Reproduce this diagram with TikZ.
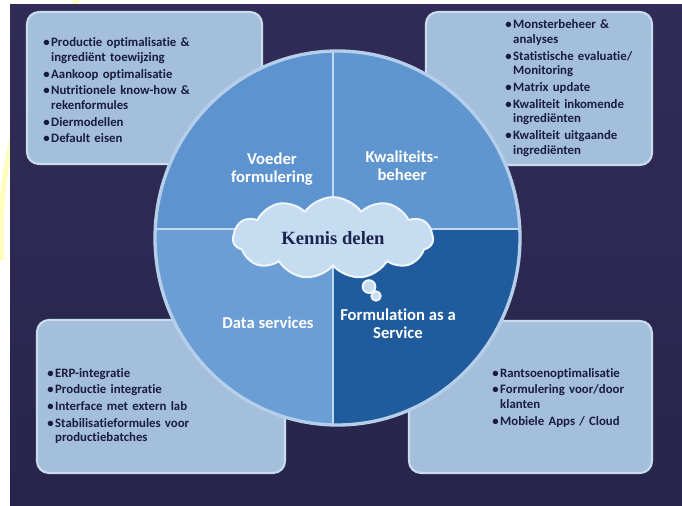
\documentclass[tikz,border=0pt]{standalone}
\usepackage{fontspec}
\setmainfont{Carlito}[Ligatures=NoCommon]
\newfontfamily\cloudfont{Liberation Serif}
\usetikzlibrary{shapes.symbols,shapes.callouts}

\definecolor{bgtop}{HTML}{302C57}
\definecolor{bgbottom}{HTML}{28254C}
\definecolor{boxfill}{HTML}{A4BFDC}
\definecolor{boxedge}{HTML}{C9DCEF}
\definecolor{boxtext}{HTML}{1A1C3C}
\definecolor{qtl}{HTML}{5D93CE}
\definecolor{qtr}{HTML}{6096CF}
\definecolor{qbl}{HTML}{6A9ED5}
\definecolor{qbr}{HTML}{1F5B9D}
\definecolor{sepline}{HTML}{C0D8F0}
\definecolor{rimline}{HTML}{B5CFEA}
\definecolor{cloudfill}{HTML}{C6DCF1}
\definecolor{cloudedge}{HTML}{EEF5FC}
\definecolor{cloudtext}{HTML}{1B2650}

% one bullet item, wrapped lines hang under the text
\newcommand\itm[1]{\hangindent=0.62em\hangafter=1\noindent\makebox[0.62em][l]{\textbullet}#1\par\vspace{1.5pt}}

\begin{document}
\begin{tikzpicture}[x=0.75pt,y=-0.75pt,line join=round,
  box/.style={fill=boxfill,draw=boxedge,line width=1.6pt,rounded corners=9pt},
  listtext/.style={anchor=base west,text width=220pt,align=left,inner sep=0pt,
    text=boxtext,font=\fontsize{9.6}{11}\selectfont\bfseries},
  quadlabel/.style={text=white,align=center,font=\fontsize{12.5}{13.5}\selectfont\bfseries}]
\useasboundingbox (0,0) rectangle (682,506);
\fill[white] (0,0) rectangle (682,506);
\draw[yellow!25,line width=4pt] (85,-10) .. controls (30,60) and (-5,150) .. (2,260);
\shade[top color=bgtop,bottom color=bgbottom] (10,5) rectangle (682,506);

\draw[box] (27,12) rectangle (262,164);
\draw[box] (426,12) rectangle (652,165);
\draw[box] (37,320) rectangle (285,473);
\draw[box] (409,321) rectangle (652,473);

\node[listtext] (tllist) at (43,47) {%
  \itm{Productie optimalisatie \&\newline ingrediënt toewijzing}%
  \itm{Aankoop optimalisatie}%
  \itm{Nutritionele know-how \&\newline rekenformules}%
  \itm{Diermodellen}%
  \itm{Default eisen}};
\node[listtext] (trlist) at (505,29) {%
  \itm{Monsterbeheer \&\newline analyses}%
  \itm{Statistische evaluatie/\newline Monitoring}%
  \itm{Matrix update}%
  \itm{Kwaliteit inkomende\newline ingrediënten}%
  \itm{Kwaliteit uitgaande\newline ingrediënten}};
\node[listtext] (bllist) at (47,377) {%
  \itm{ERP-integratie}%
  \itm{Productie integratie}%
  \itm{Interface met extern lab}%
  \itm{Stabilisatieformules voor\newline productiebatches}};
\node[listtext] (brlist) at (492,377) {%
  \itm{Rantsoenoptimalisatie}%
  \itm{Formulering voor/door\newline klanten}%
  \itm{Mobiele Apps / Cloud}};

\begin{scope}
\clip (337.5,238) ellipse [x radius=182.5,y radius=187];
\fill[qtl] (150,40) rectangle (333,229);
\fill[qtr] (333,40) rectangle (525,229);
\fill[qbl] (150,229) rectangle (333,435);
\fill[qbr] (333,229) rectangle (525,435);
\draw[sepline,line width=2pt] (333,40) -- (333,435) (150,229) -- (525,229);
\end{scope}
\draw[rimline,line width=2.5pt] (337.5,238) ellipse [x radius=182.5,y radius=187];

\node[quadlabel] (voeder) at (272,169) {Voeder\\formulering};
\node[quadlabel] (kwaliteit) at (402,166) {Kwaliteits-\\beheer};
\node[quadlabel] (data) at (268,323) {Data services};
\node[quadlabel] (faas) at (398,324) {Formulation as a\\Service};

\node[cloud callout,cloud puffs=11,cloud puff arc=110,aspect=2.6,
  fill=cloudfill,draw=cloudedge,line width=1.5pt,
  minimum width=150pt,minimum height=58pt,
  callout absolute pointer={(376,296)},callout pointer start size=12pt,
  callout pointer end size=7pt,callout pointer segments=2,
  text=cloudtext,font=\cloudfont\fontsize{14}{16}\selectfont\bfseries]
  (cloud) at (333,238) {Kennis delen};
\end{tikzpicture}
\end{document}
